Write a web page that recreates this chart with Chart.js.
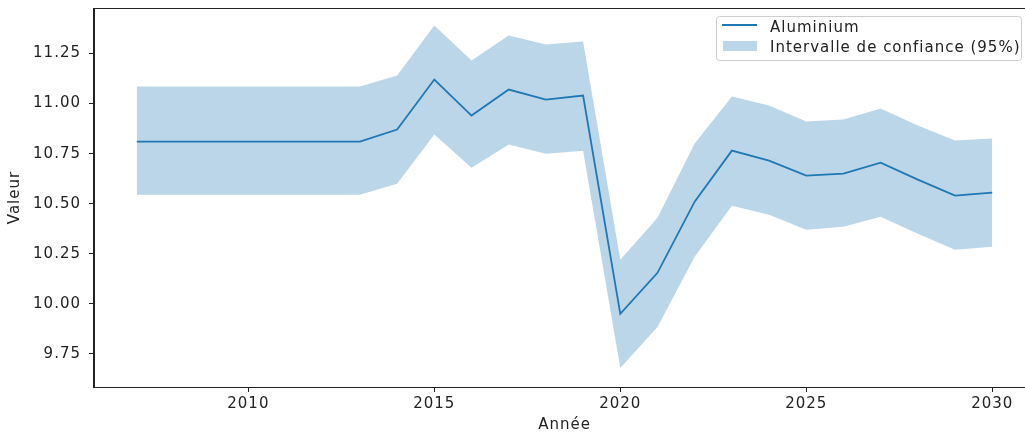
<!DOCTYPE html>
<html lang="fr">
<head>
<meta charset="utf-8">
<title>Aluminium</title>
<script src="https://cdn.jsdelivr.net/npm/chart.js@4/dist/chart.umd.min.js"></script>
<style>
  html, body { margin: 0; padding: 0; background: #ffffff; overflow: hidden; }
  #wrap { width: 1045px; height: 435px; }
</style>
</head>
<body>
<div id="wrap"><canvas id="c" width="1045" height="435"></canvas></div>
<script>
// Années
const years = [2007, 2008, 2009, 2010, 2011, 2012, 2013, 2014, 2015, 2016, 2017, 2018,
               2019, 2020, 2021, 2022, 2023, 2024, 2025, 2026, 2027, 2028, 2029, 2030];

// Valeur centrale
const aluminium = [10.81, 10.81, 10.81, 10.81, 10.81, 10.81, 10.81, 10.87, 11.12, 10.94, 11.07, 11.02,
                   11.04, 9.95, 10.155, 10.51, 10.765, 10.715, 10.64, 10.65, 10.705, 10.62, 10.54, 10.555];

// Bornes de l'intervalle de confiance (95%)
const borneHaute = [11.085, 11.085, 11.085, 11.085, 11.085, 11.085, 11.085, 11.14, 11.39, 11.215, 11.34, 11.295,
                    11.31, 10.22, 10.43, 10.80, 11.035, 10.99, 10.91, 10.92, 10.975, 10.89, 10.815, 10.825];
const borneBasse = [10.545, 10.545, 10.545, 10.545, 10.545, 10.545, 10.545, 10.60, 10.845, 10.68, 10.795, 10.75,
                    10.765, 9.68, 9.885, 10.235, 10.49, 10.445, 10.37, 10.385, 10.435, 10.35, 10.27, 10.285];

// Graduations
const xTicks = [2010, 2015, 2020, 2025, 2030];
const yTicks = [9.75, 10.00, 10.25, 10.50, 10.75, 11.00, 11.25];

const pts = arr => arr.map((v, i) => ({ x: years[i], y: v }));

const BLUE = '#1f77b4';
const BAND = 'rgba(31,119,180,0.3)';
const INK = '#222222';
const FONT = { family: '"DejaVu Sans", sans-serif', size: 15 };
const SPACING = '1px';

// Espacement des lettres appliqué à tous les textes du canvas
const spacing = {
  id: 'spacing',
  beforeUpdate(chart) { chart.ctx.letterSpacing = SPACING; },
  beforeDraw(chart) { chart.ctx.letterSpacing = SPACING; }
};

// Cadre complet autour de la zone de tracé
const frame = {
  id: 'frame',
  afterDraw(chart) {
    const { ctx, chartArea: a } = chart;
    ctx.save();
    ctx.strokeStyle = INK;
    ctx.lineWidth = 1;
    ctx.strokeRect(Math.round(a.left) - 0.5, Math.round(a.top) + 0.5,
                   Math.round(a.right - a.left), Math.round(a.bottom - a.top));
    ctx.restore();
  }
};

// Légende encadrée en haut à droite
const boxedLegend = {
  id: 'boxedLegend',
  afterDraw(chart) {
    const { ctx } = chart;
    const ds = chart.data.datasets;
    const x0 = 716, y0 = 16, w = 305, h = 44, r = 3;
    ctx.save();
    ctx.beginPath();
    ctx.roundRect(x0 + 0.5, y0 + 0.5, w, h, r);
    ctx.fillStyle = 'rgba(255,255,255,0.8)';
    ctx.fill();
    ctx.strokeStyle = '#cccccc';
    ctx.lineWidth = 1;
    ctx.stroke();

    // entrée ligne
    ctx.beginPath();
    ctx.moveTo(722, 25);
    ctx.lineTo(757, 25);
    ctx.strokeStyle = ds[0].borderColor;
    ctx.lineWidth = 1.8;
    ctx.stroke();
    // entrée bande
    ctx.fillStyle = ds[2].backgroundColor;
    ctx.fillRect(723, 41, 34, 10);

    ctx.fillStyle = INK;
    ctx.font = '15px "DejaVu Sans", sans-serif';
    ctx.textBaseline = 'alphabetic';
    ctx.textAlign = 'left';
    ctx.fillText(ds[0].label, 770, 31.5);
    ctx.fillText(ds[2].label, 770, 51.5);
    ctx.restore();
  }
};

const axisCommon = {
  type: 'linear',
  grid: { display: true, drawOnChartArea: false, drawTicks: true, tickLength: 5, tickColor: INK, color: INK, lineWidth: 1 },
  border: { display: true, color: INK, width: 1 }
};

new Chart(document.getElementById('c'), {
  type: 'line',
  data: {
    datasets: [
      {
        label: 'Aluminium',
        data: pts(aluminium),
        borderColor: BLUE,
        borderWidth: 1.8,
        pointRadius: 0,
        fill: false,
        tension: 0
      },
      {
        label: 'borne basse',
        data: pts(borneBasse),
        borderWidth: 0,
        borderColor: 'rgba(0,0,0,0)',
        pointRadius: 0,
        fill: false,
        tension: 0
      },
      {
        label: 'Intervalle de confiance (95%)',
        data: pts(borneHaute),
        borderWidth: 0,
        borderColor: 'rgba(0,0,0,0)',
        backgroundColor: BAND,
        pointRadius: 0,
        fill: 1,
        tension: 0
      }
    ]
  },
  options: {
    responsive: false,
    animation: false,
    devicePixelRatio: 1,
    layout: { autoPadding: false, padding: { top: 8, right: 10, left: 0, bottom: 0 } },
    plugins: {
      legend: { display: false },
      tooltip: { enabled: false },
      filler: { propagate: false }
    },
    scales: {
      x: Object.assign({}, axisCommon, {
        min: 2005.85,
        max: 2031.15,
        afterBuildTicks: s => { s.ticks = xTicks.map(v => ({ value: v })); },
        afterFit: s => { s.height = 48; s.paddingLeft = 0; s.paddingRight = 0; },
        ticks: { font: FONT, color: INK, padding: 3, maxRotation: 0, autoSkip: false, callback: v => String(v) },
        title: { display: true, text: 'Année', font: FONT, color: INK, padding: { top: 0, bottom: 1 } }
      }),
      y: Object.assign({}, axisCommon, {
        min: 9.585,
        max: 11.477,
        afterBuildTicks: s => { s.ticks = yTicks.map(v => ({ value: v })); },
        afterFit: s => { s.width = 94; s.paddingTop = 0; s.paddingBottom = 0; },
        ticks: { font: FONT, color: INK, padding: 8, autoSkip: false, callback: v => v.toFixed(2) },
        title: { display: true, text: 'Valeur', font: FONT, color: INK, padding: { top: 6, bottom: 0 } }
      })
    }
  },
  plugins: [spacing, frame, boxedLegend]
});
</script>
</body>
</html>
